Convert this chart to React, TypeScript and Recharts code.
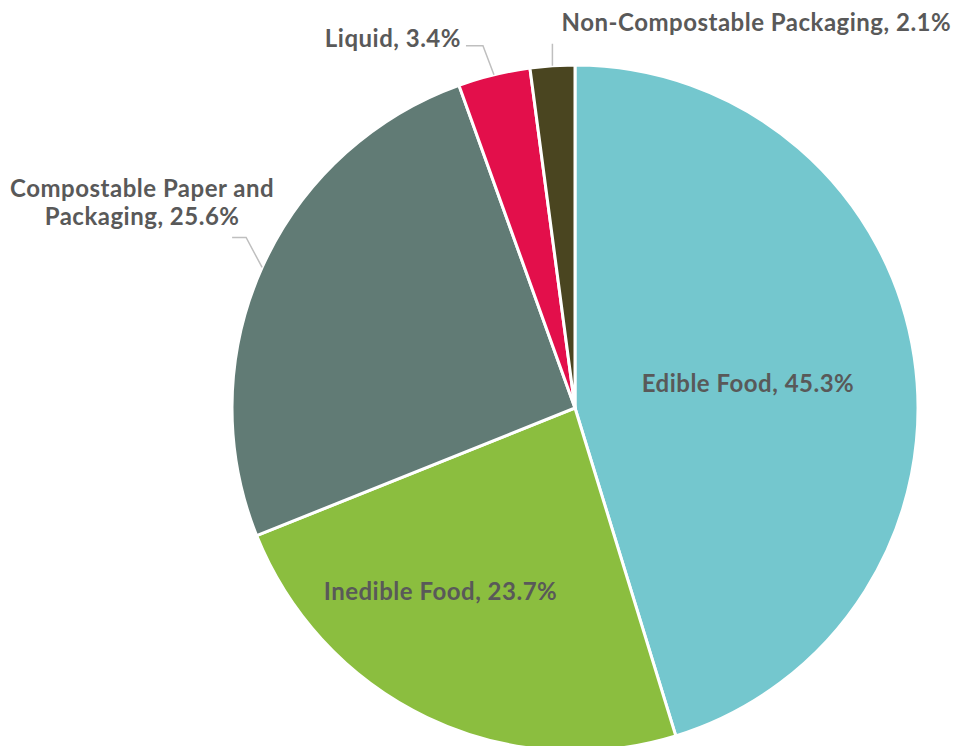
import { Cell, Pie, PieChart } from "recharts";

const categories = [
  "Edible Food",
  "Inedible Food",
  "Compostable Paper and Packaging",
  "Liquid",
  "Non-Compostable Packaging",
];
const shares = [45.3, 23.7, 25.6, 3.4, 2.1];
const labelLines = [
  ["Edible Food, 45.3%"],
  ["Inedible Food, 23.7%"],
  ["Compostable Paper and", "Packaging, 25.6%"],
  ["Liquid, 3.4%"],
  ["Non-Compostable Packaging, 2.1%"],
];

const colors = ["#74C7CE", "#8BBE3F", "#617B75", "#E30F4B", "#4A4520"];

const chartData = categories.map((name, i) => ({ name, value: shares[i] }));

const RAD = Math.PI / 180;
const TEXT = "#595959";
const LINE = "#BFBFBF";

// label placement: inside labels use radius factor + nudge, outside ones use leader offsets from slice edge
const layout: any[] = [
  { inside: true, k: 0.51, dx: 0, dy: 0 },
  { inside: true, k: 0.68, dx: -34, dy: -28 },
  { inside: false, elbow: [-16, -30], end: [-30, -30], text: [-120, -80], anchor: "middle", lh: 28 },
  { inside: false, elbow: [-11, -29], end: [-28, -29], text: [-33, -37], anchor: "end", lh: 28 },
  { inside: false, elbow: [0, -22], end: [0, -22], text: [204, -44], anchor: "middle", lh: 28 },
];

const renderLabel = (props: any) => {
  const { cx, cy, midAngle, outerRadius, index } = props;
  const cfg = layout[index];
  const cos = Math.cos(-midAngle * RAD);
  const sin = Math.sin(-midAngle * RAD);
  const lines = labelLines[index];
  const style = { fontFamily: "Lato, 'Open Sans', sans-serif", fontWeight: 700, fontSize: 24, letterSpacing: 0.5 };

  if (cfg.inside) {
    const x = cx + outerRadius * cfg.k * cos + cfg.dx;
    const y = cy + outerRadius * cfg.k * sin + cfg.dy;
    return (
      <text x={x} y={y} fill={TEXT} textAnchor="middle" dominantBaseline="central" style={style}>
        {lines[0]}
      </text>
    );
  }

  const ex = cx + outerRadius * cos;
  const ey = cy + outerRadius * sin;
  const pts = [
    [ex, ey],
    [ex + cfg.elbow[0], ey + cfg.elbow[1]],
    [ex + cfg.end[0], ey + cfg.end[1]],
  ];
  return (
    <g>
      <polyline points={pts.map((p) => p.join(",")).join(" ")} fill="none" stroke={LINE} strokeWidth={1.5} />
      <text fill={TEXT} textAnchor={cfg.anchor} style={style}>
        {lines.map((l: string, i: number) => (
          <tspan key={i} x={ex + cfg.text[0]} y={ey + cfg.text[1] + i * cfg.lh} dominantBaseline="central">
            {l}
          </tspan>
        ))}
      </text>
    </g>
  );
};

export default function App() {
  return (
    <div style={{ position: "absolute", left: 0, top: 0, width: 957, height: 746, background: "#fff" }}>
      <PieChart width={957} height={746} margin={{ top: 0, right: 0, bottom: 0, left: 0 }}>
        <Pie
          data={chartData}
          dataKey="value"
          nameKey="name"
          cx={575}
          cy={408}
          outerRadius={343}
          startAngle={90}
          endAngle={-270}
          stroke="#ffffff"
          strokeWidth={3}
          label={renderLabel}
          labelLine={false}
          isAnimationActive={false}
        >
          {chartData.map((d, i) => (
            <Cell key={d.name} fill={colors[i]} />
          ))}
        </Pie>
      </PieChart>
    </div>
  );
}
